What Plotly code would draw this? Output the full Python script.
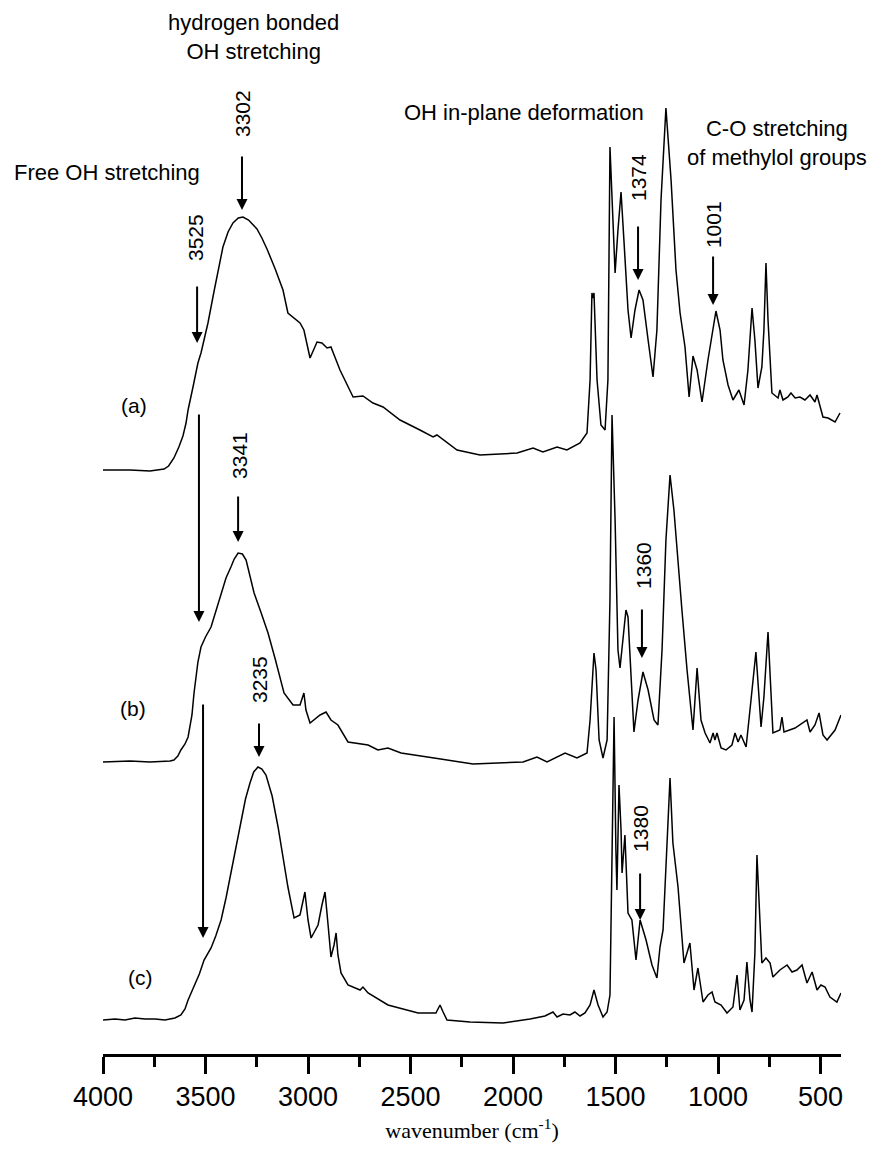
import plotly.graph_objects as go

# ---------------- DATA ----------------
# wavenumber (cm-1) and stacked intensity (a.u.) for each spectrum
wn_a = [4000, 3868, 3771, 3730, 3702, 3680, 3654, 3630, 3610, 3595, 3585, 3561, 3537, 3522, 3505,
        3488, 3459, 3435, 3415, 3390, 3366, 3340, 3317, 3290, 3270, 3249, 3225, 3200, 3160, 3122,
        3098, 3039, 3020, 2990, 2956, 2932, 2907, 2888, 2844, 2780, 2732, 2683,
        2634, 2551, 2454, 2390, 2371, 2273, 2161, 1980, 1902, 1854, 1785, 1737, 1673, 1639, 1624,
        1615, 1610, 1605, 1590, 1571, 1551, 1537, 1527, 1512, 1502, 1488, 1473, 1459, 1439, 1424,
        1405, 1385, 1366, 1341, 1317, 1298, 1278, 1254, 1229, 1205, 1185, 1161, 1141, 1122, 1102,
        1078, 1049, 1010, 990, 976, 951, 927, 898, 873, 854, 834, 820, 805, 786, 776,
        766, 756, 737, 707, 698, 683, 659, 644, 624, 600, 576, 551, 527, 517, 488,
        463, 429, 405]
int_a = [5.84, 5.84, 5.83, 5.84, 5.85, 5.88, 5.96, 6.07, 6.18, 6.31, 6.44, 6.67, 6.91, 7.01, 7.15,
         7.31, 7.62, 7.88, 8.07, 8.22, 8.31, 8.36, 8.37, 8.34, 8.30, 8.25, 8.16, 8.05, 7.85, 7.64,
         7.41, 7.31, 7.24, 6.96, 7.12, 7.11, 7.06, 7.07, 6.84, 6.57, 6.58, 6.51,
         6.47, 6.34, 6.24, 6.17, 6.19, 6.04, 5.99, 6.01, 6.06, 6.02, 6.07, 6.04, 6.11, 6.21, 6.74,
         7.61, 7.56, 7.61, 6.74, 6.29, 6.24, 6.74, 9.07, 8.24, 7.81, 8.24, 8.62, 8.14, 7.44, 7.16,
         7.44, 7.64, 7.54, 7.14, 6.77, 7.24, 8.54, 9.46, 8.74, 7.84, 7.41, 7.07, 6.57, 6.98, 6.84,
         6.52, 6.94, 7.43, 7.24, 6.94, 6.69, 6.54, 6.64, 6.49, 6.84, 7.46, 7.14, 6.66, 6.87, 7.24,
         7.91, 7.34, 6.61, 6.56, 6.64, 6.54, 6.57, 6.61, 6.56, 6.57, 6.54, 6.59, 6.52, 6.59, 6.37,
         6.36, 6.32, 6.41]

wn_b = [4000, 3868, 3771, 3673, 3654, 3635, 3620, 3600, 3585, 3566, 3556, 3537, 3522, 3500, 3473,
        3450, 3424, 3400, 3376, 3360, 3341, 3320, 3302, 3285, 3263, 3230, 3195, 3160, 3117, 3073,
        3039, 3020, 3010, 2990, 2941, 2912, 2888, 2854, 2839, 2805,
        2707, 2659, 2610, 2546, 2385, 2195, 1951, 1883, 1834, 1746, 1688, 1639, 1624, 1610, 1605,
        1595, 1580, 1561, 1541, 1527, 1517, 1502, 1488, 1478, 1463, 1449, 1439, 1424, 1410, 1390,
        1366, 1341, 1312, 1293, 1273, 1254, 1234, 1215, 1195, 1176, 1151, 1122, 1102, 1083, 1063,
        1039, 1024, 1015, 1005, 985, 961, 932, 917, 902, 888, 863, 839, 815, 790, 776,
        756, 732, 698, 688, 678, 624, 566, 551, 527, 507, 488, 468, 429, 400]
int_b = [2.92, 2.93, 2.92, 2.93, 2.94, 2.98, 3.04, 3.10, 3.17, 3.39, 3.61, 3.92, 4.07, 4.17, 4.27,
         4.43, 4.61, 4.76, 4.87, 4.95, 5.01, 5.00, 4.94, 4.80, 4.61, 4.42, 4.21, 3.95, 3.61, 3.49,
         3.49, 3.61, 3.44, 3.31, 3.39, 3.42, 3.34, 3.29, 3.24, 3.12,
         3.09, 3.04, 3.06, 3.01, 2.96, 2.90, 2.92, 2.97, 2.92, 3.01, 2.96, 3.01, 3.34, 3.94, 4.01,
         3.84, 3.14, 2.96, 3.14, 4.54, 6.39, 5.34, 4.04, 3.86, 4.14, 4.44, 4.37, 3.74, 3.22, 3.54,
         3.82, 3.64, 3.34, 3.29, 4.04, 5.14, 5.79, 5.44, 4.89, 4.44, 3.84, 3.24, 3.86, 3.34, 3.21,
         3.11, 3.21, 3.14, 3.21, 3.06, 3.04, 3.09, 3.21, 3.12, 3.19, 3.07, 3.54, 4.02, 3.27, 3.57,
         4.22, 3.21, 3.24, 3.37, 3.22, 3.26, 3.34, 3.22, 3.29, 3.41, 3.19, 3.14, 3.24, 3.39]

wn_c = [4000, 3941, 3893, 3844, 3795, 3746, 3698, 3649, 3620, 3600, 3585, 3556, 3530, 3507, 3490,
        3473, 3450, 3424, 3400, 3376, 3350, 3327, 3305, 3283, 3265, 3244, 3225, 3205, 3175, 3146,
        3120, 3098, 3068, 3039, 3015, 3000, 2985, 2951, 2932, 2917, 2902,
        2888, 2873, 2863, 2854, 2839, 2805, 2746, 2732, 2707, 2610, 2463, 2376, 2356, 2341, 2322,
        2210, 2049, 1917, 1844, 1805, 1785, 1756, 1722, 1698, 1673, 1649, 1624, 1605, 1585, 1561,
        1541, 1527, 1517, 1507, 1498, 1493, 1483, 1473, 1468, 1454, 1439, 1420, 1400, 1380, 1351,
        1322, 1298, 1283, 1268, 1254, 1234, 1220, 1195, 1166, 1137, 1117, 1098, 1073, 1049, 1029,
        1015, 985, 956, 927, 907, 893, 873, 859, 844, 834, 820, 810, 795, 786, 766,
        746, 732, 698, 663, 639, 615, 590, 566, 541, 517, 498, 478, 454, 420, 400]
int_c = [0.34, 0.35, 0.34, 0.36, 0.35, 0.35, 0.34, 0.36, 0.39, 0.45, 0.54, 0.67, 0.80, 0.94, 1.00,
         1.06, 1.18, 1.34, 1.56, 1.81, 2.08, 2.34, 2.55, 2.71, 2.82, 2.87, 2.85, 2.79, 2.58, 2.27,
         1.95, 1.67, 1.36, 1.39, 1.62, 1.34, 1.16, 1.29, 1.49, 1.62, 1.29,
         0.97, 1.09, 1.21, 0.99, 0.81, 0.69, 0.64, 0.67, 0.61, 0.49, 0.41, 0.41, 0.49, 0.42, 0.34,
         0.32, 0.31, 0.35, 0.38, 0.42, 0.37, 0.40, 0.39, 0.42, 0.38, 0.41, 0.49, 0.64, 0.49, 0.37,
         0.42, 0.59, 1.94, 3.37, 2.04, 1.64, 2.69, 2.24, 1.81, 2.19, 1.41, 1.34, 0.94, 1.34, 1.14,
         0.89, 0.76, 1.07, 1.24, 1.94, 2.76, 2.11, 1.67, 0.91, 1.11, 0.64, 0.86, 0.52, 0.59, 0.62,
         0.52, 0.49, 0.41, 0.47, 0.79, 0.44, 0.54, 0.92, 0.54, 0.42, 1.01, 1.99, 1.34, 0.91, 0.96,
         0.91, 0.77, 0.84, 0.89, 0.82, 0.84, 0.89, 0.71, 0.82, 0.64, 0.69, 0.67, 0.57, 0.52, 0.61]

series_names = ["(a)", "(b)", "(c)"]

# peak marks: label, wavenumber at label, label height
peak_labels = ["3302", "3525", "1374", "1001", "3341", "1360", "3235", "1380"]
peak_wn = [3322, 3551, 1390, 1024, 3337, 1366, 3239, 1381]
peak_label_y = [9.41, 8.16, 8.76, 8.29, 5.99, 4.89, 3.74, 2.26]
# arrows: wavenumber, tail and head heights
arrow_wn = [3322, 3541, 1390, 1024, 3341, 1371, 3239, 1380, 3532, 3512]
arrow_tail = [8.99, 7.69, 8.29, 7.99, 5.59, 4.46, 3.32, 1.82, 6.41, 3.51]
arrow_head = [8.44, 7.11, 7.74, 7.49, 5.12, 3.96, 2.97, 1.34, 4.32, 1.16]

tick_vals = [4000, 3500, 3000, 2500, 2000, 1500, 1000, 500]
tick_text = ["4000", "3500", "3000", "2500", "2000", "1500", "1000", "500"]
minor_vals = [3750, 3250, 2750, 2250, 1750, 1250, 750]

# ---------------- FIGURE ----------------
fig = go.Figure()
for wn, it in [(wn_a, int_a), (wn_b, int_b), (wn_c, int_c)]:
    fig.add_trace(go.Scatter(x=wn, y=it, mode="lines",
                             line=dict(color="black", width=1.5), showlegend=False,
                             hoverinfo="skip"))

SANS = "Liberation Sans, Arial, sans-serif"
ann = []
for lab, w, yy in zip(peak_labels, peak_wn, peak_label_y):
    ann.append(dict(x=w, y=yy, xref="x", yref="y", text=lab, showarrow=False,
                    textangle=-90, font=dict(family=SANS, size=21, color="black")))
for w, t, h in zip(arrow_wn, arrow_tail, arrow_head):
    ann.append(dict(x=w, y=h, ax=w, ay=t, xref="x", yref="y", axref="x", ayref="y",
                    text="", showarrow=True, arrowhead=2, arrowsize=1.1, arrowwidth=2,
                    arrowcolor="black", standoff=0, startstandoff=0))
ann.append(dict(x=3268, y=10.17, xref="x", yref="y", text="hydrogen bonded<br>OH stretching",
                showarrow=False, font=dict(family=SANS, size=22, color="black")))
ann.append(dict(x=-0.1233, y=8.82, xref="paper", yref="y", xanchor="left",
                text="Free OH stretching", showarrow=False,
                font=dict(family=SANS, size=22, color="black")))
ann.append(dict(x=1946, y=9.42, xref="x", yref="y", text="OH in-plane deformation",
                showarrow=False, font=dict(family=SANS, size=22, color="black")))
ann.append(dict(x=712, y=9.11, xref="x", yref="y", text="C-O stretching<br>of methylol groups",
                showarrow=False, font=dict(family=SANS, size=22, color="black")))
for name, px, yy in zip(series_names, [0.0217, 0.0203, 0.031], [6.49, 3.46, 0.77]):
    ann.append(dict(x=px, y=yy, xref="paper", yref="y", text=name, showarrow=False,
                    font=dict(family=SANS, size=21, color="black")))

fig.update_layout(
    width=876, height=1157,
    margin=dict(l=103, r=35, t=0, b=103, autoexpand=False),
    paper_bgcolor="white", plot_bgcolor="white",
    annotations=ann,
    xaxis=dict(range=[4000, 400], showgrid=False, zeroline=False, automargin=False,
               showline=True, linewidth=3, linecolor="black",
               ticks="outside", ticklen=17, tickwidth=3, tickcolor="black",
               tickvals=tick_vals, ticktext=tick_text,
               tickfont=dict(family=SANS, size=27, color="black"),
               minor=dict(tickvals=minor_vals,
                          ticks="outside", ticklen=10, tickwidth=3, tickcolor="black"),
               title=dict(text="wavenumber (cm<sup>-1</sup>)",
                          font=dict(family="Liberation Serif, Times New Roman, serif",
                                    size=22, color="black"), standoff=12)),
    yaxis=dict(range=[0, 10.54], visible=False, showgrid=False, zeroline=False,
               automargin=False),
)

fig.write_html("out.html", config={"displayModeBar": False},
               post_script="document.body.style.margin='0';document.body.style.padding='0';")
